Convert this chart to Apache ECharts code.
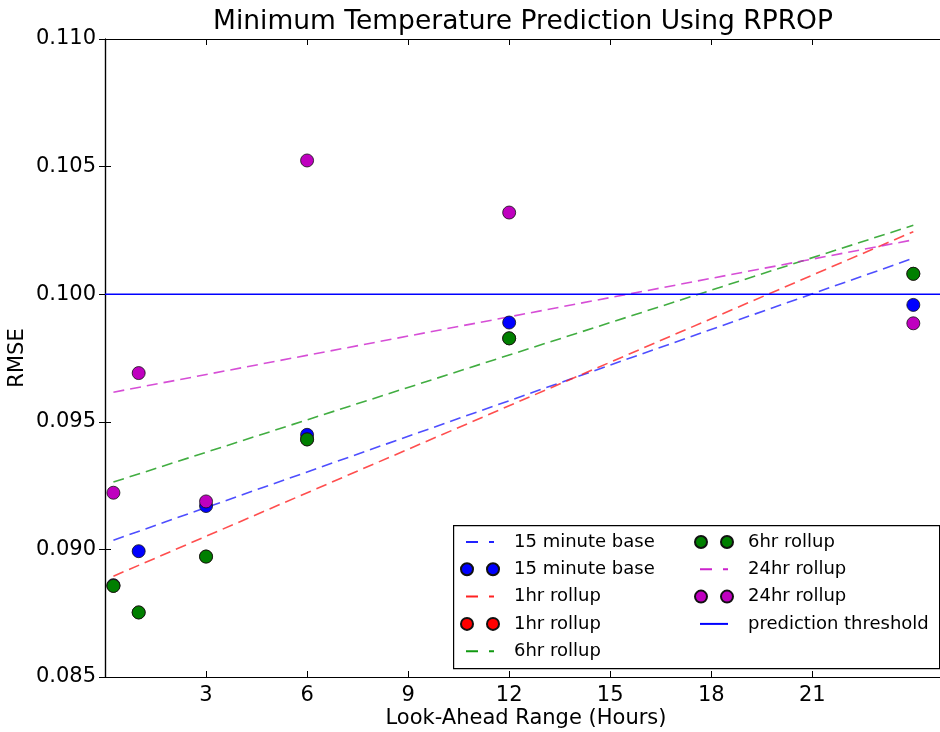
<!DOCTYPE html>
<html>
<head>
<meta charset="utf-8">
<script src="https://cdn.jsdelivr.net/npm/echarts@6.0.0/dist/echarts.min.js"></script>
<style>
  html, body { margin: 0; padding: 0; background: #fff; }
  #chart { width: 940px; height: 732px; }
</style>
</head>
<body>
<div id="chart"></div>
<script>
/* RMSE vs look-ahead range, RPROP — scatter points + fitted trend lines */

// ---- data ----
var lookAhead      = [0.25, 1, 3, 6, 12, 24];
var rmseBase15     = [0.0886, 0.08993, 0.0917, 0.09449, 0.09889, 0.09958];
var rmse1hr        = [0.08857, 0.08753, 0.08972, 0.09431, 0.09827, 0.10080];
var rmse6hr        = [0.08857, 0.08753, 0.08972, 0.09431, 0.09827, 0.10080];
var rmse24hr       = [0.09222, 0.09691, 0.09188, 0.10524, 0.10320, 0.09886];

// trend lines: value at first and last look-ahead
var trendX         = [0.25, 24];
var trendBase15    = [0.09036, 0.10141];
var trend1hr       = [0.08895, 0.10245];
var trend6hr       = [0.09264, 0.10270];
var trend24hr      = [0.09616, 0.10213];

var thresholdX     = [0, 25];
var thresholdValue = 0.100;

var xTicks = [3, 6, 9, 12, 15, 18, 21];

// ---- helpers ----
function pairs(xs, ys) {
  return xs.map(function (x, i) { return [x, ys[i]]; });
}

var FONT = "DejaVu Sans";
var ICON_DOTS  = "path://M0,6a6,6 0 1,0 12,0a6,6 0 1,0 -12,0Z M26,6a6,6 0 1,0 12,0a6,6 0 1,0 -12,0Z";
var ICON_DASH  = "path://M0,0M38,12M5,5h12v2h-12Z M28,5h5v2h-5Z";
var ICON_SOLID = "path://M0,0M38,12M5,5h28v2h-28Z";

function trendSeries(name, color, ys) {
  return {
    name: name, type: "line", data: pairs(trendX, ys),
    showSymbol: false, symbol: "none", silent: true,
    itemStyle: { color: color },
    lineStyle: { color: color, width: 1.6, type: [11, 6], opacity: 0.8 },
    z: 2
  };
}
function pointSeries(name, color, ys, z) {
  return {
    name: name, type: "scatter", data: pairs(lookAhead, ys),
    symbolSize: 13,
    itemStyle: { color: color, borderColor: "#111", borderWidth: 0.8, opacity: 1 },
    z: z
  };
}

var chart = echarts.init(document.getElementById("chart"), null, { renderer: "canvas" });

var legendText = { fontFamily: FONT, fontSize: 18, color: "#000", lineHeight: 20, padding: [0, 0, 0, 10] };

chart.setOption({
  animation: false,
  backgroundColor: "#fff",
  title: {
    text: "Minimum Temperature Prediction Using RPROP",
    left: 518, top: 4, textAlign: "center",
    textStyle: { fontFamily: FONT, fontSize: 26.5, fontWeight: "normal", color: "#000" }
  },
  grid: { left: 105, top: 39, width: 842, height: 638, outerBoundsMode: "none", containLabel: false },
  xAxis: [{
    type: "value", min: 0, max: 25,
    name: "Look-Ahead Range (Hours)", nameLocation: "middle", nameGap: 31, nameMoveOverlap: false,
    nameTextStyle: { fontFamily: FONT, fontSize: 21, color: "#000" },
    axisLine: { lineStyle: { color: "#000", width: 1.2 } },
    axisTick: { inside: true, length: 6, customValues: xTicks, lineStyle: { color: "#000" } },
    axisLabel: { customValues: xTicks, fontFamily: FONT, fontSize: 21, color: "#000", margin: 8 },
    splitLine: { show: false }
  }, {
    type: "value", min: 0, max: 25, position: "top",
    axisLine: { lineStyle: { color: "#000", width: 1.2 } },
    axisTick: { inside: true, length: 6, customValues: xTicks, lineStyle: { color: "#000" } },
    axisLabel: { show: false },
    splitLine: { show: false }
  }],
  yAxis: [{
    type: "value", min: 0.085, max: 0.110, interval: 0.005,
    name: "RMSE", nameLocation: "middle", nameGap: 77, nameRotate: 90, nameMoveOverlap: false,
    nameTextStyle: { fontFamily: FONT, fontSize: 21, color: "#000" },
    axisLine: { show: true, lineStyle: { color: "#000", width: 1.2 } },
    axisTick: { show: true, inside: true, length: 6, lineStyle: { color: "#000" } },
    axisLabel: {
      fontFamily: FONT, fontSize: 21, color: "#000", margin: 9,
      formatter: function (v) { return v.toFixed(3); }
    },
    splitLine: { show: false }
  }, {
    type: "value", min: 0.085, max: 0.110, interval: 0.005, position: "right",
    axisLine: { show: true, lineStyle: { color: "#000", width: 1.2 } },
    axisTick: { show: true, inside: true, length: 6, lineStyle: { color: "#000" } },
    axisLabel: { show: false },
    splitLine: { show: false }
  }],
  graphic: [{
    type: "rect", left: 453, top: 525, z: 90,
    shape: { width: 486, height: 143 },
    style: { fill: "#fff", stroke: "#000", lineWidth: 1.2 }
  }],
  legend: [{
    orient: "vertical", left: 460, top: 532, padding: 0,
    itemWidth: 38, itemHeight: 12, itemGap: 7.3, z: 100,
    textStyle: legendText,
    formatter: function (n) { return n.trim(); },
    data: [
      { name: "15 minute base", icon: ICON_DASH },
      { name: "15 minute base ", icon: ICON_DOTS },
      { name: "1hr rollup", icon: ICON_DASH },
      { name: "1hr rollup ", icon: ICON_DOTS },
      { name: "6hr rollup", icon: ICON_DASH }
    ]
  }, {
    orient: "vertical", left: 694, top: 532, padding: 0,
    itemWidth: 38, itemHeight: 12, itemGap: 7.3, z: 100,
    textStyle: legendText,
    formatter: function (n) { return n.trim(); },
    data: [
      { name: "6hr rollup ", icon: ICON_DOTS },
      { name: "24hr rollup", icon: ICON_DASH },
      { name: "24hr rollup ", icon: ICON_DOTS },
      { name: "prediction threshold", icon: ICON_SOLID }
    ]
  }],
  series: [
    trendSeries("15 minute base", "#2222ff", trendBase15),
    pointSeries("15 minute base ", "#0000ff", rmseBase15, 3),
    trendSeries("1hr rollup", "#ff2222", trend1hr),
    pointSeries("1hr rollup ", "#ff0000", rmse1hr, 4),
    trendSeries("6hr rollup", "#119911", trend6hr),
    pointSeries("6hr rollup ", "#007f00", rmse6hr, 5),
    trendSeries("24hr rollup", "#cc22cc", trend24hr),
    pointSeries("24hr rollup ", "#bf00bf", rmse24hr, 6),
    {
      name: "prediction threshold", type: "line",
      data: thresholdX.map(function (x) { return [x, thresholdValue]; }),
      showSymbol: false, symbol: "none", silent: true,
      itemStyle: { color: "#0000ff" },
      lineStyle: { color: "#0000ff", width: 1.5 },
      z: 2
    }
  ]
});
</script>
</body>
</html>
